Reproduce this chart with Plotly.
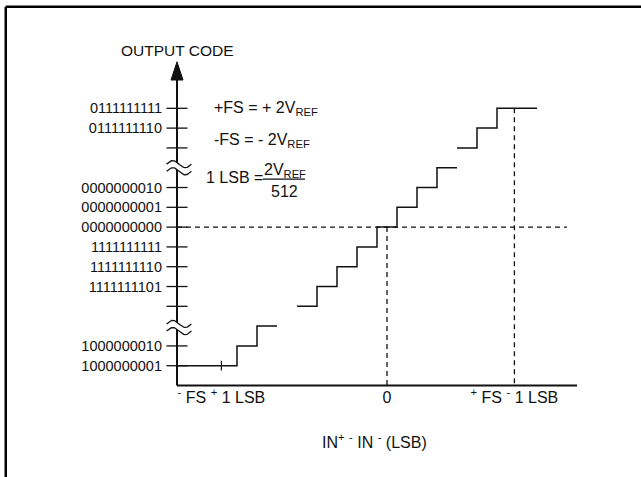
import numpy as np
import plotly.graph_objects as go

# output codes on the vertical axis (position counted in LSB steps above the input axis)
code_pos = [1, 2, 4, 5, 6, 7, 8, 9, 10, 12, 13, 14]
code_text = ['1000000001', '1000000010', '', '1111111101', '1111111110',
             '1111111111', '0000000000', '0000000001', '0000000010', '',
             '0111111110', '0111111111']

# input axis labels (in LSB)
in_pos = [2.22, 10.5, 16.87]
in_text = ['<sup>-</sup> FS <sup>+</sup> 1 LSB', '0', '<sup>+</sup> FS <sup>-</sup> 1 LSB']

# transfer function, drawn as three staircase pieces (input edge, output code)
low_x = [0, 3, 4, 5]
low_y = [1, 2, 3, 3]
mid_x = [6, 7, 8, 9, 10, 11, 12, 13, 14]
mid_y = [4, 5, 6, 7, 8, 9, 10, 11, 11]
top_x = [14, 15, 16, 18]
top_y = [12, 13, 14, 14]

zero_in = 10.5
zero_code = 8
fs_in = 16.87
fs_code = 14
neg_fs_in = 2.22
neg_fs_code = 1
axis_end = 20
breaks = [2.93, 11.0]

FONT = 'Liberation Sans, Arial, sans-serif'
BLACK = '#111111'

fig = go.Figure()

# axes drawn as lines
fig.add_trace(go.Scatter(x=[0, axis_end], y=[0, 0], mode='lines',
                         line=dict(color=BLACK, width=2), hoverinfo='skip'))
fig.add_trace(go.Scatter(x=[0, 0], y=[0, 15.6], mode='lines',
                         line=dict(color=BLACK, width=2), hoverinfo='skip'))

# axis break glyphs (two wavy strokes, axis blanked between them)
for yb in breaks:
    xs = np.linspace(-0.62, 0.62, 40)
    wave = 0.18 * np.sin(np.pi * (xs + 0.62) / 0.62)
    xs = xs + 0.1
    up = yb + 0.18 + wave
    dn = yb - 0.18 + wave
    fig.add_trace(go.Scatter(x=list(xs) + list(xs[::-1]), y=list(up) + list(dn[::-1]),
                             mode='lines', fill='toself', fillcolor='white',
                             line=dict(width=0), hoverinfo='skip'))
    for yy in (up, dn):
        fig.add_trace(go.Scatter(x=xs, y=yy, mode='lines',
                                 line=dict(color=BLACK, width=1.3), hoverinfo='skip'))

# tick marks crossing the vertical axis
fig.add_trace(go.Scatter(x=[0] * len(code_pos), y=code_pos, mode='markers',
                         marker=dict(symbol='line-ew', size=15,
                                     line=dict(color=BLACK, width=1.3)),
                         hoverinfo='skip'))

# dashed reference lines
dash = dict(color=BLACK, width=1.3, dash='5px,4px')
fig.add_trace(go.Scatter(x=[0, 19.5], y=[zero_code, zero_code], mode='lines', line=dash))
fig.add_trace(go.Scatter(x=[zero_in, zero_in], y=[zero_code, 0], mode='lines', line=dash))
fig.add_trace(go.Scatter(x=[fs_in, fs_in], y=[fs_code, 0], mode='lines', line=dash))

# staircase
for sx, sy in [(low_x, low_y), (mid_x, mid_y), (top_x, top_y)]:
    fig.add_trace(go.Scatter(x=sx, y=sy, mode='lines', line_shape='hv',
                             line=dict(color=BLACK, width=1.5)))

fig.add_trace(go.Scatter(x=[neg_fs_in], y=[neg_fs_code], mode='markers',
                         marker=dict(symbol='line-ns', size=7,
                                     line=dict(color=BLACK, width=1.2))))

# arrow head on the output axis
fig.add_shape(type='path', path='M -0.3,15.43 L 0,16.35 L 0.3,15.43 Z',
              fillcolor=BLACK, line=dict(color=BLACK, width=1))

# fraction bar of 1 LSB
fig.add_shape(type='line', x0=4.3, x1=6.4, y0=10.42, y1=10.42,
              line=dict(color=BLACK, width=1.3))

# page frame (top and left edges)
fig.add_shape(type='line', xref='paper', yref='paper', x0=0.009, x1=1, y0=0.986, y1=0.986,
              line=dict(color='black', width=2.5))
fig.add_shape(type='line', xref='paper', yref='paper', x0=0.009, x1=0.009, y0=0, y1=0.986,
              line=dict(color='black', width=2.5))

txt = dict(family=FONT, size=16, color=BLACK)
fig.add_annotation(x=0, y=16.94, text='OUTPUT CODE', showarrow=False, font=dict(txt, size=15.5))
fig.add_annotation(x=1.75, y=14.0, text='+FS = + 2V<sub>REF</sub>', showarrow=False,
                   xanchor='left', font=txt)
fig.add_annotation(x=1.75, y=12.35, text='-FS = - 2V<sub>REF</sub>', showarrow=False,
                   xanchor='left', font=txt)
fig.add_annotation(x=4.4, y=10.53, text='1 LSB =', showarrow=False, xanchor='right', font=txt)
fig.add_annotation(x=5.4, y=10.85, text='2V<sub>REF</sub>', showarrow=False, font=txt)
fig.add_annotation(x=5.35, y=9.82, text='512', showarrow=False, font=txt)
fig.add_annotation(x=9.85, y=-2.8, text='IN<sup>+</sup> <sup>-</sup> IN <sup>-</sup> (LSB)',
                   showarrow=False, font=txt)

fig.update_layout(
    width=641, height=477, autosize=False,
    margin=dict(l=0, r=0, t=0, b=0),
    paper_bgcolor='white', plot_bgcolor='white',
    showlegend=False,
    xaxis=dict(range=[-8.85, 23.2], anchor='free', position=0.1918,
               showgrid=False, zeroline=False, showline=False, ticks='',
               tickvals=in_pos, ticktext=in_text, ticklabelstandoff=0,
               tickfont=txt, fixedrange=True),
    yaxis=dict(range=[-4.62, 19.47], anchor='free', position=0.2761,
               showgrid=False, zeroline=False, showline=False, ticks='',
               tickvals=code_pos, ticktext=code_text, ticklabelstandoff=15,
               tickfont=dict(txt, size=14.5), fixedrange=True),
)

# drop the browser's default page margin so the figure sits at the window corner
fig.write_html("out.html", config={'displayModeBar': False},
               post_script="document.body.style.margin='0px';")
